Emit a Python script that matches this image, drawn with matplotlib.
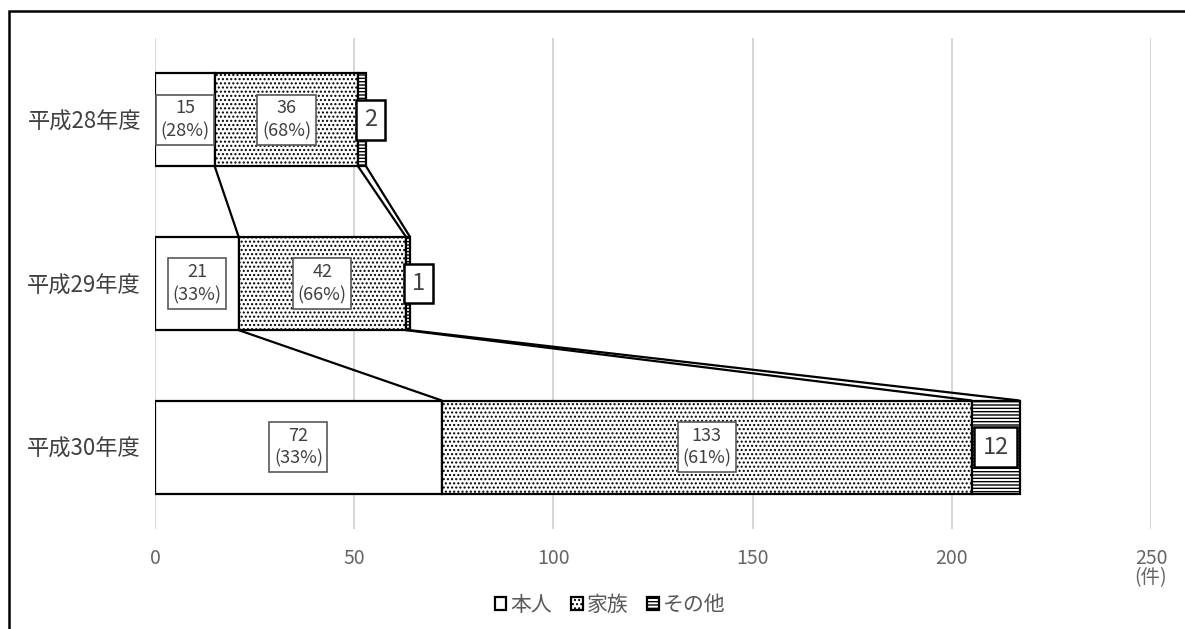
import matplotlib
matplotlib.use("Agg")
import matplotlib.pyplot as plt
from matplotlib.patches import Patch, Rectangle
import numpy as np

plt.rcParams['font.family'] = ['Noto Sans CJK JP', 'DejaVu Sans']
plt.rcParams['hatch.linewidth'] = 1.0

categories = ['平成28年度', '平成29年度', '平成30年度']
series_names = ['本人', '家族', 'その他']
honnin = [15, 21, 72]
kazoku = [36, 42, 133]
sonota = [2, 1, 12]
xticks = [0, 50, 100, 150, 200, 250]
xtick_labels = ['0', '50', '100', '150', '200', '250\n(件)']

fig = plt.figure(figsize=(11.85, 6.29), dpi=100)
ax = fig.add_axes([155/1185, 1-529/629, 996/1185, 491/629])

y = np.arange(len(categories))
h = 0.57
hatches = [None, '....', '-----']
data = [np.array(honnin), np.array(kazoku), np.array(sonota)]
totals = data[0] + data[1] + data[2]
left = np.zeros(len(categories))
for k, vals in enumerate(data):
    ax.barh(y, vals, left=left, height=h, color='white', edgecolor='black',
            linewidth=1.6, hatch=hatches[k], label=series_names[k], zorder=3)
    for i in range(len(categories)):
        if k < 2:
            pct = round(vals[i] / totals[i] * 100)
            ax.text(left[i] + vals[i] / 2, y[i], f"{vals[i]}\n({pct}%)",
                    ha='center', va='center', fontsize=13, color='#404040',
                    linespacing=1.35, zorder=5,
                    bbox=dict(boxstyle='square,pad=0.25', fc='white',
                              ec='#595959', lw=1.2))
        else:
            if vals[i] < 5:
                xp, ha = left[i] + 1.5, 'left'
            else:
                xp, ha = left[i] + vals[i] / 2, 'center'
            ax.text(xp, y[i], f"{vals[i]}", ha=ha, va='center', fontsize=17,
                    color='#404040', zorder=5,
                    bbox=dict(boxstyle='square,pad=0.35', fc='white',
                              ec='black', lw=1.8))
    left = left + vals

# series lines
cum = np.cumsum(np.vstack(data), axis=0)
for i in range(len(categories) - 1):
    for k in range(cum.shape[0]):
        ax.plot([cum[k, i], cum[k, i + 1]], [y[i] + h / 2, y[i + 1] - h / 2],
                color='black', lw=1.6, zorder=2, solid_capstyle='butt')

ax.set_xlim(0, 250)
ax.set_ylim(2.5, -0.5)
ax.set_yticks(y)
ax.set_yticklabels(categories, fontsize=16, color='#404040')
ax.set_xticks(xticks)
ax.set_xticklabels(xtick_labels, fontsize=14, color='#666666', linespacing=0.85)
ax.tick_params(axis='both', length=0)
ax.tick_params(axis='x', pad=14)
ax.tick_params(axis='y', pad=10)
for s in ax.spines.values():
    s.set_visible(False)
ax.grid(axis='x', color='#d0d0d0', lw=1.2)
ax.set_axisbelow(True)

handles = [Patch(facecolor='white', edgecolor='black', hatch=hatches[k], lw=1.6)
           for k in range(3)]
fig.legend(handles, series_names, loc='center', bbox_to_anchor=(0.515, 0.038),
           ncol=3, frameon=False, fontsize=15, handlelength=0.55, handleheight=0.55,
           handletextpad=0.2, columnspacing=0.9, labelcolor='#595959')

fig.patches.append(Rectangle((9/1185, -0.1), 1.2, 1.1 - 11/629, transform=fig.transFigure,
                             fill=False, ec='black', lw=1.8, zorder=10))

fig.savefig('out.png', dpi=100)
